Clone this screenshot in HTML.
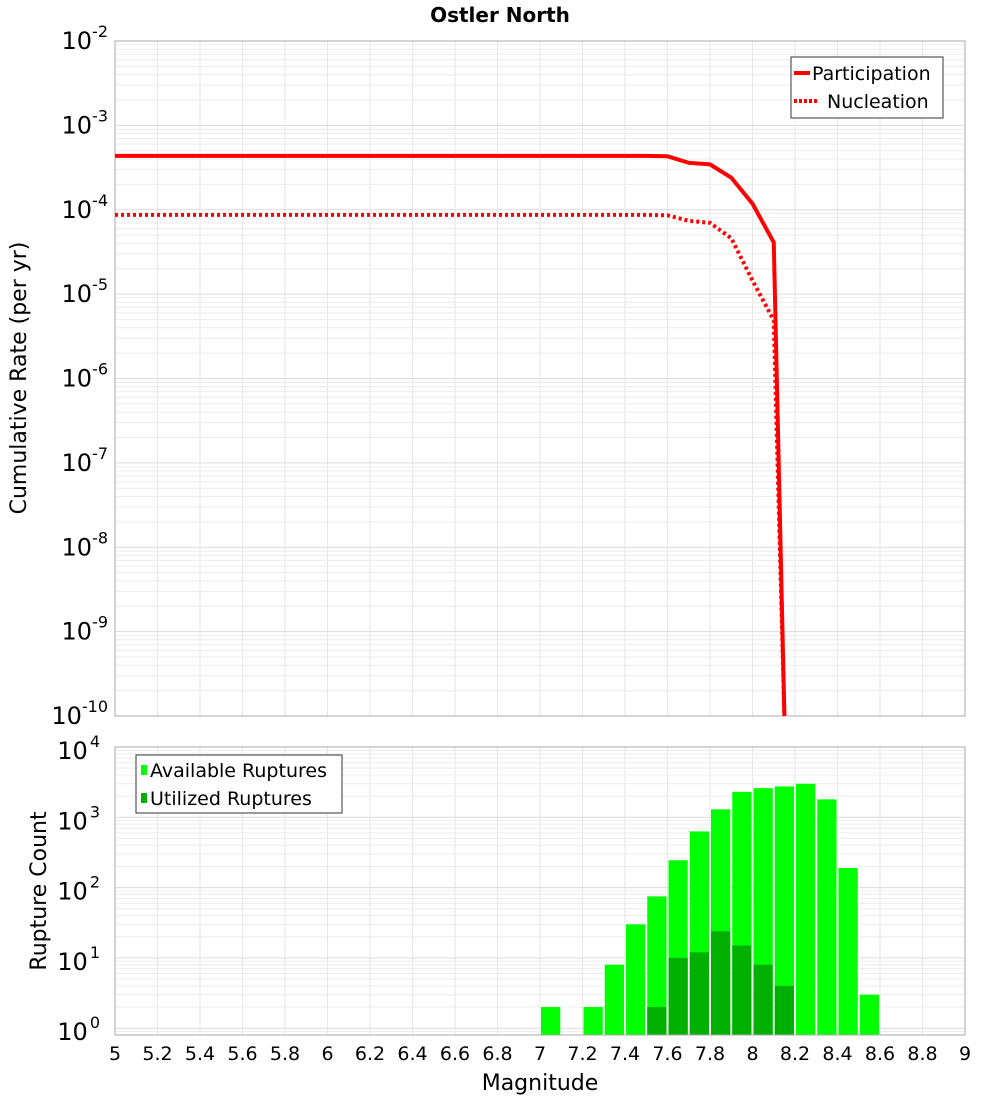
<!DOCTYPE html>
<html><head><meta charset="utf-8"><style>
body{margin:0;background:#fff;}
svg{font-family:"DejaVu Sans","Liberation Sans",sans-serif;display:block;}
</style></head><body>
<svg id="chart" width="1000" height="1100" viewBox="0 0 1000 1100" xmlns="http://www.w3.org/2000/svg">
<text x="500" y="22" text-anchor="middle" font-size="20" font-weight="bold">Ostler North</text>
<g id="topPlot"></g>
<g id="botPlot"></g>
<text transform="translate(26,378) rotate(-90)" text-anchor="middle" font-size="22">Cumulative Rate (per yr)</text>
<text transform="translate(46,891) rotate(-90)" text-anchor="middle" font-size="22">Rupture Count</text>
<text x="540" y="1090" text-anchor="middle" font-size="22">Magnitude</text>
</svg>
<script>
const partMags=[5.0,7.5,7.6,7.7,7.8,7.9,8.0,8.1,8.15];
const partRates=[4.35e-4,4.35e-4,4.3e-4,3.6e-4,3.45e-4,2.4e-4,1.18e-4,4.1e-5,1e-11];
const nuclMags=[5.0,7.5,7.6,7.7,7.8,7.9,8.0,8.1,8.15];
const nuclRates=[8.7e-5,8.7e-5,8.6e-5,7.4e-5,7.0e-5,4.6e-5,1.45e-5,4.9e-6,1e-11];
const binStarts=[7.0,7.2,7.3,7.4,7.5,7.6,7.7,7.8,7.9,8.0,8.1,8.2,8.3,8.4,8.5];
const availCounts=[2,2,8,30,75,245,630,1300,2300,2600,2750,3000,1800,190,3];
const utilStarts=[7.5,7.6,7.7,7.8,7.9,8.0,8.1];
const utilCounts=[2,10,12,24,15,8,4];
const xTicks=[5,5.2,5.4,5.6,5.8,6,6.2,6.4,6.6,6.8,7,7.2,7.4,7.6,7.8,8,8.2,8.4,8.6,8.8,9];
const topExps=[-2,-3,-4,-5,-6,-7,-8,-9,-10];
const botExps=[4,3,2,1,0];

const NS='http://www.w3.org/2000/svg';
const L=115,R=965;
const X=m=>L+(m-5)*(R-L)/4;
const TT=41,TB=716;
const YT=v=>TT+(-2-Math.log10(v))*(TB-TT)/8;
const BT=747,BB=1035;
const YB=v=>BT+(4-Math.log10(v))*70.3;
function mk(parent,tag,attrs){const e=document.createElementNS(NS,tag);for(const k in attrs)e.setAttribute(k,attrs[k]);parent.appendChild(e);return e;}
const topG=document.getElementById('topPlot'),botG=document.getElementById('botPlot');

function grid(g,t,b,yf,eMin,eMax){
  for(const m of xTicks){const l=mk(g,'line',{x1:X(m),x2:X(m),y1:t,y2:b,stroke:'#e6e6e6','stroke-width':1});
  
  }
  for(let e=eMin;e<eMax;e++)for(let k=1;k<10;k++){const y=yf(k*Math.pow(10,e));if(y<t||y>b)continue;
    const l=mk(g,'line',{x1:L,x2:R,y1:y,y2:y,stroke:k==1?'#dcdcdc':'#ececec','stroke-width':1});
    
    }
}
grid(topG,TT,TB,YT,-10,-2);
const tf=mk(topG,'rect',{x:L,y:TT,width:R-L,height:TB-TT,fill:'none',stroke:'#aaa'});


for(const e of topExps){const t=mk(topG,'text',{x:108,y:YT(Math.pow(10,e))+8,'text-anchor':'end','font-size':24});
  
  
  t.innerHTML='10<tspan dy="-12" font-size="16">'+e+'</tspan>';}
function line(mags,rates,dash,name){
  const clipY=v=>Math.min(TB,YT(v));
  const pts=mags.map((m,i)=>X(m)+','+clipY(rates[i])).join(' ');
  const p=mk(topG,'polyline',{points:pts,fill:'none',stroke:'#ff0000','stroke-width':4});
  if(dash)p.setAttribute('stroke-dasharray','3,3');
  
  
}
line(nuclMags,nuclRates,true,'nucleation-line');
line(partMags,partRates,false,'participation-line');
const lg=mk(topG,'g',{});


mk(lg,'rect',{x:791,y:57,width:152,height:61,fill:'#fff',stroke:'#333'});
mk(lg,'line',{x1:794,x2:810,y1:73,y2:73,stroke:'#f00','stroke-width':4});
mk(lg,'line',{x1:794,x2:818,y1:101,y2:101,stroke:'#f00','stroke-width':4,'stroke-dasharray':'3,2'});
const lt1=mk(lg,'text',{x:812,y:80,'font-size':19});lt1.textContent='Participation';


const lt2=mk(lg,'text',{x:827,y:108,'font-size':19});lt2.textContent='Nucleation';



grid(botG,BT,BB,YB,-1,4);
function bars(starts,counts,color,name){
  starts.forEach((s,i)=>{const y=YB(counts[i]);
    const r=mk(botG,'rect',{x:X(s)+1,y:y,width:X(s+0.1)-X(s)-2,height:BB-y,fill:color});
    
    });
}
bars(binStarts,availCounts,'#00ff00','available-bar');
bars(utilStarts,utilCounts,'#00b000','utilized-bar');
const bf=mk(botG,'rect',{x:L,y:BT,width:R-L,height:BB-BT,fill:'none',stroke:'#aaa'});


for(const e of botExps){const t=mk(botG,'text',{x:100,y:YB(Math.pow(10,e))+12,'text-anchor':'end','font-size':24});
  
  
  t.innerHTML='10<tspan dy="-12" font-size="16" dx="2">'+e+'</tspan>';}
for(const m of xTicks){const t=mk(botG,'text',{x:X(m),y:1060,'text-anchor':'middle','font-size':19});
  t.textContent=String(m);
  
  }
const bl=mk(botG,'g',{});


mk(bl,'rect',{x:136,y:755,width:206,height:58,fill:'#fff',stroke:'#333'});
mk(bl,'rect',{x:141,y:765,width:6,height:10,fill:'#00ff00'});
mk(bl,'rect',{x:141,y:793,width:6,height:10,fill:'#00b000'});
const b1=mk(bl,'text',{x:150,y:777,'font-size':19});b1.textContent='Available Ruptures';


const b2=mk(bl,'text',{x:150,y:805,'font-size':19});b2.textContent='Utilized Ruptures';


</script>
</body></html>
